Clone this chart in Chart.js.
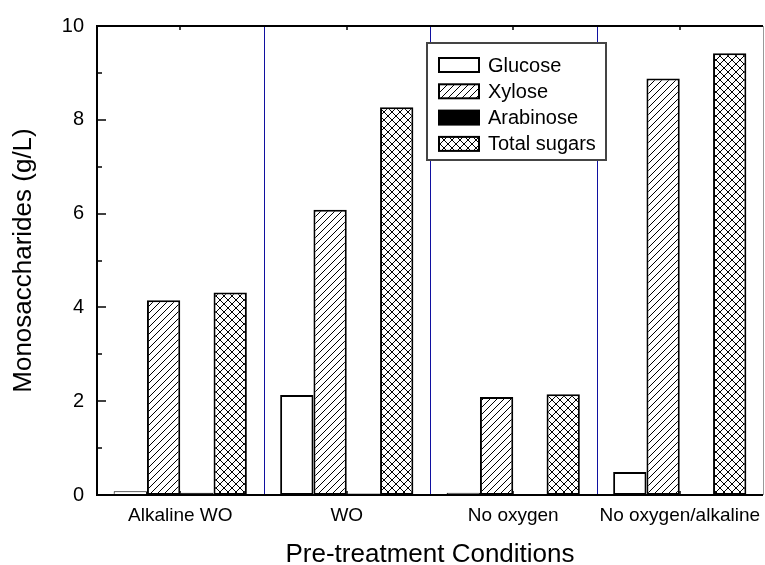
<!DOCTYPE html>
<html>
<head>
<meta charset="utf-8">
<script src="https://cdn.jsdelivr.net/npm/chart.js@4/dist/chart.umd.min.js"></script>
<style>
    body { margin: 0; background: #fff; }
    canvas { display: block; }
</style>
</head>
<body>
<canvas id="chart" width="765" height="565"></canvas>
<script>
const categories = ['Alkaline WO', 'WO', 'No oxygen', 'No oxygen/alkaline'];
const seriesLabels = ['Glucose', 'Xylose', 'Arabinose', 'Total sugars'];
const glucose = [0.08, 2.13, 0.05, 0.49];
const xylose = [4.15, 6.08, 2.09, 8.88];
const arabinose = [0.05, 0.03, 0.01, 0.01];
const totalSugars = [4.32, 8.27, 2.15, 9.42];
const yMin = 0;
const yMax = 10;
const yStep = 2;

const FONT = "'Liberation Sans', Arial, sans-serif";

// hatch fills, drawn on a small tile
function makePattern(size, cross) {
    let tile = document.createElement('canvas');
    tile.width = size;
    tile.height = size;
    let c = tile.getContext('2d');
    c.fillStyle = '#fff';
    c.fillRect(0, 0, size, size);
    c.strokeStyle = '#000';
    c.lineWidth = 1;
    c.beginPath();
    c.moveTo(-1, size + 1); c.lineTo(size + 1, -1);
    c.moveTo(-1, 1); c.lineTo(1, -1);
    c.moveTo(size - 1, size + 1); c.lineTo(size + 1, size - 1);
    if (cross) {
        c.moveTo(-1, -1); c.lineTo(size + 1, size + 1);
        c.moveTo(size - 1, -1); c.lineTo(size + 1, 1);
        c.moveTo(-1, size - 1); c.lineTo(1, size + 1);
    }
    c.stroke();
    return c.createPattern(tile, 'repeat');
}

const diagonal = makePattern(7, false);
const crosshatch = makePattern(8, true);

function dataset(label, data, fill) {
    return {
        label: label,
        data: data,
        backgroundColor: fill,
        borderColor: '#000',
        // thin outline on the very short bars so they still read as boxes
        borderWidth: (c) => (c.raw < 0.2 ? 1 : 2),
        borderSkipped: false,
        categoryPercentage: 0.8,
        barPercentage: 1.0
    };
}

function line(ctx, x1, y1, x2, y2) {
    ctx.beginPath();
    ctx.moveTo(x1, y1);
    ctx.lineTo(x2, y2);
    ctx.stroke();
}

const frame = {
    id: 'frame',
    beforeDatasetsDraw(chart) {
        // blue separators between the conditions
        const ctx = chart.ctx;
        const a = chart.chartArea;
        const sx = chart.scales.x;
        ctx.save();
        ctx.strokeStyle = '#1010a0';
        ctx.lineWidth = 1;
        for (let i = 1; i < categories.length; i++) {
            let x = Math.round((sx.getPixelForValue(i - 1) + sx.getPixelForValue(i)) / 2) + 0.5;
            line(ctx, x, a.top, x, a.bottom);
        }
        ctx.restore();
    },
    afterDraw(chart) {
        const ctx = chart.ctx;
        const a = chart.chartArea;
        const sx = chart.scales.x;
        const sy = chart.scales.y;
        ctx.save();

        // inward ticks
        ctx.strokeStyle = '#000';
        ctx.lineWidth = 1.5;
        for (let v = yMin; v <= yMax; v++) {
            let y = Math.round(sy.getPixelForValue(v));
            line(ctx, a.left, y, a.left + (v % 2 ? 5 : 9), y);
        }
        categories.forEach((c, i) => {
            let x = Math.round(sx.getPixelForValue(i));
            line(ctx, x, a.bottom, x, a.bottom - 4);
            line(ctx, x, a.top, x, a.top + 4);
        });

        // frame
        ctx.lineWidth = 2;
        line(ctx, a.left, a.top, a.left, a.bottom + 1);
        line(ctx, a.left - 1, a.bottom, a.right, a.bottom);
        line(ctx, a.left - 1, a.top, a.right, a.top);
        ctx.strokeStyle = '#999';
        ctx.lineWidth = 1;
        line(ctx, a.right + 0.5, a.top, a.right + 0.5, a.bottom);

        // legend box
        let lx = a.left + 330, ly = a.top + 17, lw = 179, lh = 117;
        ctx.fillStyle = '#fff';
        ctx.fillRect(lx, ly, lw, lh);
        ctx.strokeStyle = '#444';
        ctx.lineWidth = 2;
        ctx.strokeRect(lx, ly, lw, lh);

        ctx.font = '20px ' + FONT;
        ctx.textBaseline = 'middle';
        chart.data.datasets.forEach((ds, i) => {
            let cy = ly + 22 + i * 26.3;
            ctx.fillStyle = ds.backgroundColor;
            ctx.fillRect(lx + 12, cy - 7, 40, 14);
            ctx.strokeStyle = '#000';
            ctx.lineWidth = 2;
            ctx.strokeRect(lx + 12, cy - 7, 40, 14);
            ctx.fillStyle = '#000';
            ctx.fillText(ds.label, lx + 61, cy + 1);
        });
        ctx.restore();
    }
};

const config = {
    type: 'bar',
    data: {
        labels: categories,
        datasets: [
            dataset(seriesLabels[0], glucose, '#fff'),
            dataset(seriesLabels[1], xylose, diagonal),
            dataset(seriesLabels[2], arabinose, '#000'),
            dataset(seriesLabels[3], totalSugars, crosshatch)
        ]
    },
    options: {
        responsive: false,
        animation: false,
        layout: {
            padding: { top: 26, right: 2, left: 0, bottom: 0 }
        },
        plugins: {
            legend: { display: false },
            tooltip: { enabled: false }
        },
        scales: {
            x: {
                afterFit: (s) => {
                    s.height = 70;
                    s.paddingLeft = 0;
                    s.paddingRight = 0;
                },
                border: { display: false },
                grid: { display: false, drawTicks: false },
                ticks: {
                    color: '#000',
                    padding: 9,
                    maxRotation: 0,
                    minRotation: 0,
                    autoSkip: false,
                    font: { family: FONT, size: 19 }
                },
                title: {
                    display: true,
                    text: 'Pre-treatment Conditions',
                    color: '#000',
                    font: { family: FONT, size: 26, lineHeight: 0.8 },
                    padding: { top: 0, bottom: 0 }
                }
            },
            y: {
                min: yMin,
                max: yMax,
                afterFit: (s) => { s.width = 97; },
                border: { display: false },
                grid: { display: false, drawTicks: false },
                ticks: {
                    stepSize: yStep,
                    color: '#000',
                    padding: 13,
                    font: { family: FONT, size: 20 }
                },
                title: {
                    display: true,
                    text: 'Monosaccharides (g/L)',
                    color: '#000',
                    font: { family: FONT, size: 26 },
                    padding: { top: 8, bottom: 0 }
                }
            }
        }
    },
    plugins: [frame]
};

new Chart(document.getElementById('chart'), config);
</script>
</body>
</html>
